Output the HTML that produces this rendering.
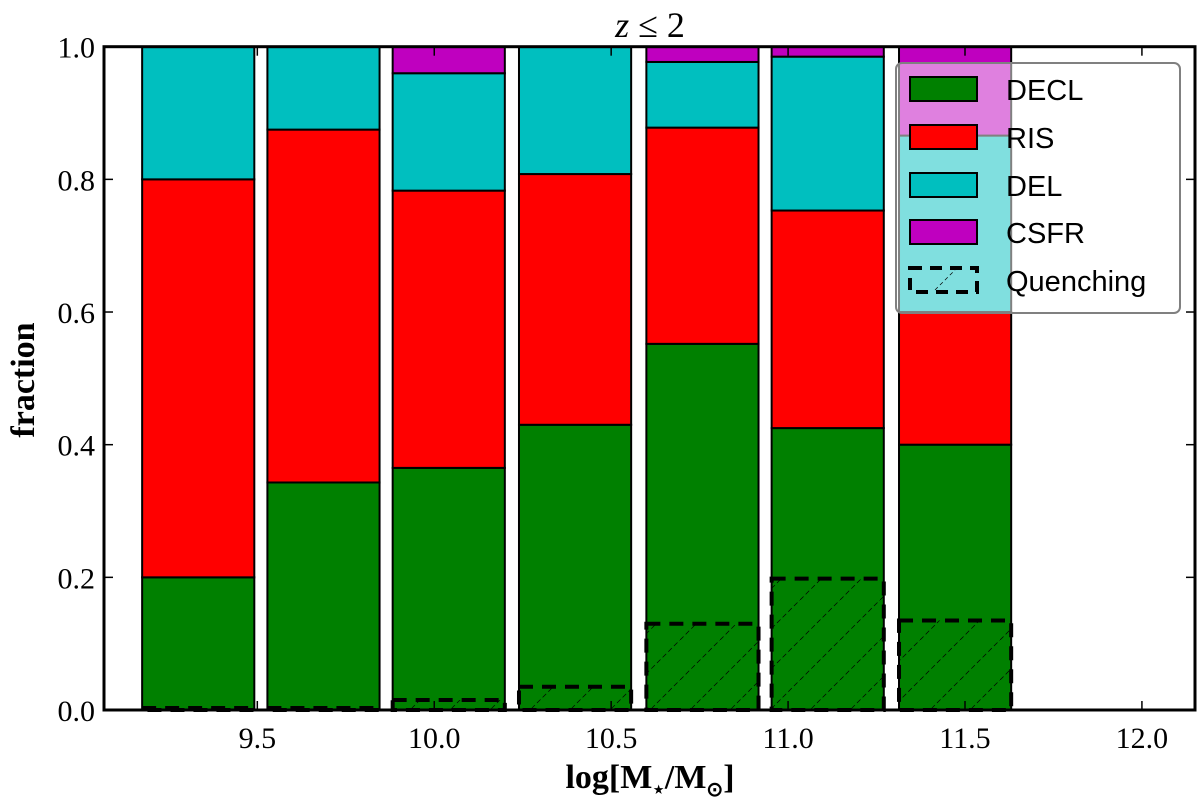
<!DOCTYPE html>
<html><head><meta charset="utf-8"><style>
body{margin:0;background:#fff}
svg{display:block}
</style></head><body>
<svg id="chart" width="1200" height="802" viewBox="0 0 1200 802" xmlns="http://www.w3.org/2000/svg">
<defs>
<pattern id="hatch" patternUnits="userSpaceOnUse" width="40" height="40">
<path d="M0,40 L40,0" stroke="#000" stroke-width="0.7" stroke-dasharray="5,3"/>
</pattern>
</defs>
<g id="bars"></g>
<g id="axes"></g>
</svg>
<script>
const binCenters = [9.333, 9.687, 10.041, 10.398, 10.758, 11.112, 11.472];
const binWidth = 0.317;
const decl = [0.200, 0.343, 0.365, 0.430, 0.552, 0.425, 0.400];
const ris  = [0.600, 0.532, 0.418, 0.378, 0.326, 0.328, 0.200];
const del  = [0.200, 0.125, 0.177, 0.192, 0.099, 0.232, 0.266];
const csfr = [0.000, 0.000, 0.040, 0.000, 0.023, 0.015, 0.134];
const quenching = [0.003, 0.003, 0.015, 0.035, 0.130, 0.198, 0.135];
const xTicks = [9.5, 10.0, 10.5, 11.0, 11.5, 12.0];
const xTickLabels = ["9.5", "10.0", "10.5", "11.0", "11.5", "12.0"];
const yTicks = [0, 0.2, 0.4, 0.6, 0.8, 1.0];
const yTickLabels = ["0.0", "0.2", "0.4", "0.6", "0.8", "1.0"];

const X0 = 104, X1 = 1195, Y0 = 710, Y1 = 46.7;
const xmin = 9.0667, xmax = 12.15;
const xs = v => X0 + (v - xmin) / (xmax - xmin) * (X1 - X0);
const ys = v => Y0 - v * (Y0 - Y1);
const NS = "http://www.w3.org/2000/svg";
function mk(tag, attrs, parent) {
  const e = document.createElementNS(NS, tag);
  for (const k in attrs) e.setAttribute(k, attrs[k]);
  parent.appendChild(e);
  return e;
}
const bars = document.getElementById('bars');
const axes = document.getElementById('axes');
const series = [[decl, '#008000', 'decl'], [ris, '#ff0000', 'ris'], [del, '#00bfbf', 'del'], [csfr, '#bf00bf', 'csfr']];
binCenters.forEach((c, i) => {
  let base = 0;
  const xl = xs(c - binWidth / 2), xr = xs(c + binWidth / 2);
  series.forEach(([arr, col, nm]) => {
    const v = arr[i];
    if (v > 0) {
      const r = mk('rect', {x: xl, y: ys(base + v), width: xr - xl, height: ys(base) - ys(base + v), fill: col, stroke: '#000', 'stroke-width': 2}, bars);
      
      
    }
    base += v;
  });
});
binCenters.forEach((c, i) => {
  const xl = xs(c - binWidth / 2), xr = xs(c + binWidth / 2);
  const q = quenching[i];
  const r = mk('rect', {x: xl, y: ys(q), width: xr - xl, height: ys(0) - ys(q), fill: 'url(#hatch)', stroke: '#000', 'stroke-width': 4, 'stroke-dasharray': '14,9'}, bars);
  
  
});
const fr = mk('rect', {x: X0, y: Y1, width: X1 - X0, height: Y0 - Y1, fill: 'none', stroke: '#000', 'stroke-width': 3}, axes);


xTicks.forEach((t, i) => {
  const x = xs(t);
  mk('line', {x1: x, x2: x, y1: Y0, y2: Y0 - 9, stroke: '#000', 'stroke-width': 1.5}, axes);
  mk('line', {x1: x, x2: x, y1: Y1, y2: Y1 + 9, stroke: '#000', 'stroke-width': 1.5}, axes);
  const tx = mk('text', {x: x, y: 748, 'text-anchor': 'middle', 'font-family': 'Liberation Serif, serif', 'font-size': 30}, axes);
  tx.textContent = xTickLabels[i];
  
  
});
yTicks.forEach((t, i) => {
  const y = ys(t);
  mk('line', {x1: X0, x2: X0 + 9, y1: y, y2: y, stroke: '#000', 'stroke-width': 1.5}, axes);
  mk('line', {x1: X1, x2: X1 - 9, y1: y, y2: y, stroke: '#000', 'stroke-width': 1.5}, axes);
  const tx = mk('text', {x: 95, y: y + 11, 'text-anchor': 'end', 'font-family': 'Liberation Serif, serif', 'font-size': 30}, axes);
  tx.textContent = yTickLabels[i];
  
  
});
</script>
<svg style="position:absolute;left:0;top:0" width="1200" height="802" xmlns="http://www.w3.org/2000/svg">
<text x="650" y="37" text-anchor="middle" font-family="Liberation Serif, serif" font-size="36"><tspan font-style="italic">z</tspan> ≤ 2</text>
<text x="0" y="0" transform="translate(34,380) rotate(-90)" text-anchor="middle" font-family="Liberation Serif, serif" font-weight="bold" font-size="34">fraction</text>
<text x="650" y="788" text-anchor="middle" font-family="Liberation Serif, serif" font-weight="bold" font-size="34">log[M<tspan font-size="20" dy="8">⋆</tspan><tspan dy="-8">/M</tspan><tspan font-size="20" dy="8">⊙</tspan><tspan dy="-8">]</tspan></text>
<g>
<rect x="896" y="63" width="284" height="250" rx="6" fill="rgba(255,255,255,0.5)" stroke="#808080" stroke-width="2"/>
<g><rect x="910" y="77" width="67" height="24" fill="#008000" stroke="#000" stroke-width="2"/><text x="1006" y="100" font-family="Liberation Sans, sans-serif" font-size="29">DECL</text></g>
<g><rect x="910" y="125" width="67" height="24" fill="#ff0000" stroke="#000" stroke-width="2"/><text x="1006" y="148" font-family="Liberation Sans, sans-serif" font-size="29">RIS</text></g>
<g><rect x="910" y="173" width="67" height="24" fill="#00bfbf" stroke="#000" stroke-width="2"/><text x="1006" y="196" font-family="Liberation Sans, sans-serif" font-size="29">DEL</text></g>
<g><rect x="910" y="220" width="67" height="24" fill="#bf00bf" stroke="#000" stroke-width="2"/><text x="1006" y="243" font-family="Liberation Sans, sans-serif" font-size="29">CSFR</text></g>
<g><rect x="910" y="268" width="67" height="24" fill="none" stroke="#000" stroke-width="4" stroke-dasharray="12,8"/><path d="M935,290 L955,270" stroke="#000" stroke-width="0.7" stroke-dasharray="4,3"/><text x="1006" y="291" font-family="Liberation Sans, sans-serif" font-size="29">Quenching</text></g>
</g>
</svg>
</body></html>
